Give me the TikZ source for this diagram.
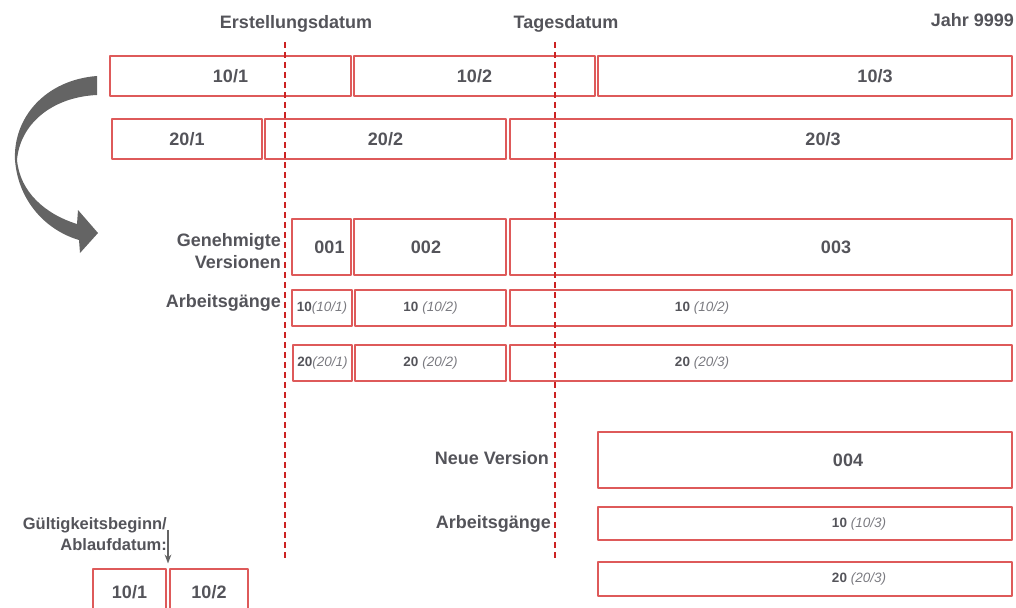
\documentclass[tikz,border=0pt]{standalone}
\usepackage{fontspec}
\setmainfont{Liberation Sans}
\usetikzlibrary{calc,arrows.meta}

\definecolor{boxred}{RGB}{222,90,90}
\definecolor{datered}{RGB}{204,34,34}
\definecolor{txtgray}{RGB}{84,84,90}
\definecolor{itgray}{RGB}{122,122,128}
\definecolor{arrowgray}{RGB}{100,100,100}

\newcommand\opname[3]{#1#2\textit{\mdseries\color{itgray}(#3)}}

\begin{document}
\begin{tikzpicture}[x=1pt, y=-1pt, >=Stealth, line join=round,
  box/.style={draw=boxred, line width=1.1pt, inner sep=0pt, text=txtgray,
    font=\fontsize{18}{20}\selectfont\bfseries},
  opbox/.style={box, font=\fontsize{13.5}{15}\selectfont\bfseries},
  boxtext/.style 2 args={label={[text=txtgray, xshift=#1pt,
    font=\fontsize{18}{20}\selectfont\bfseries]center:#2}},
  optext/.style 2 args={label={[text=txtgray, xshift=#1pt,
    font=\fontsize{13.5}{15}\selectfont\bfseries]center:#2}},
  lbl/.style={text=txtgray, inner sep=0pt, align=right,
    font=\fontsize{18}{22}\selectfont\bfseries},
  datum/.style={draw=datered, line width=2pt, dash pattern=on 6pt off 4pt}]

  % Fix the page to the size of the reference
  \useasboundingbox (0,0) rectangle (1016,607);
  \clip (0,0) rectangle (1016,607);

  % Define the top and bottom of the two date lines
  \coordinate (erst-top) at (285,42);
  \coordinate (erst-bot) at (285,560);
  \coordinate (tag-top) at (555,42);
  \coordinate (tag-bot) at (555,560);

  % Draw the date labels
  \node[lbl] (erst) at (296,24) {Erstellungsdatum};
  \node[lbl] (tag) at (566,24) {Tagesdatum};
  \node[lbl, anchor=east] (jahr) at (1014,20) {Jahr 9999};

  % Draw the validity periods of the operations 10 and 20
  \node[box, minimum width=241pt, minimum height=40pt] (v101) at (230.5,76) {10/1};
  \node[box, minimum width=241pt, minimum height=40pt] (v102) at (474.5,76) {10/2};
  \node[box, minimum width=414pt, minimum height=40pt, boxtext={70}{10/3}] (v103) at (805,76) {};
  \node[box, minimum width=150pt, minimum height=40pt] (v201) at (187,139) {20/1};
  \node[box, minimum width=241pt, minimum height=40pt] (v202) at (385.5,139) {20/2};
  \node[box, minimum width=502pt, minimum height=40pt, boxtext={62}{20/3}] (v203) at (761,139) {};

  % Draw the curved arrow down to the versions
  \fill[arrowgray] (97,76) .. controls (45,80) and (13,118) .. (15,160)
    .. controls (18,200) and (45,230) .. (79,240) -- (80,253) -- (98,233)
    -- (78,210) -- (77,224) .. controls (45,214) and (20,192) .. (17,160)
    .. controls (20,124) and (52,97) .. (97,95) -- cycle;

  % Draw the approved versions
  \node[lbl, anchor=east] (genehm) at (281,251) {Genehmigte\\Versionen};
  \node[box, minimum width=59pt, minimum height=56pt, boxtext={8}{001}] (ver001) at (321.5,247) {};
  \node[box, minimum width=152pt, minimum height=56pt, boxtext={-4}{002}] (ver002) at (430,247) {};
  \node[box, minimum width=502pt, minimum height=56pt, boxtext={75}{003}] (ver003) at (761,247) {};

  % Draw the operations of the approved versions
  \node[lbl, anchor=east] (arb1) at (281,303) {Arbeitsgänge};
  \node[opbox, minimum width=60pt, minimum height=36pt] (op101) at (322,308) {\opname{10}{}{10/1}};
  \node[opbox, minimum width=151pt, minimum height=36pt] (op102) at (430.5,308) {\opname{10}{ }{10/2}};
  \node[opbox, minimum width=502pt, minimum height=36pt, optext={-59}{\opname{10}{ }{10/2}}] (op103) at (761,308) {};
  \node[opbox, minimum width=59pt, minimum height=36pt] (op201) at (322.5,363) {\opname{20}{}{20/1}};
  \node[opbox, minimum width=151pt, minimum height=36pt] (op202) at (430.5,363) {\opname{20}{ }{20/2}};
  \node[opbox, minimum width=502pt, minimum height=36pt, optext={-59}{\opname{20}{ }{20/3}}] (op203) at (761,363) {};

  % Draw the new version and its operations
  \node[lbl, anchor=east] (neu) at (549,458) {Neue Version};
  \node[box, minimum width=414pt, minimum height=56pt, boxtext={43}{004}] (ver004) at (805,460) {};
  \node[lbl, anchor=east] (arb2) at (551,524) {Arbeitsgänge};
  \node[opbox, minimum width=414pt, minimum height=33pt, optext={54}{\opname{10}{ }{10/3}}] (op104) at (805,523.5) {};
  \node[opbox, minimum width=414pt, minimum height=34pt, optext={54}{\opname{20}{ }{20/3}}] (op204) at (805,579) {};

  % Draw the creation date and the current date
  \draw[datum] (erst-top) -- (erst-bot);
  \draw[datum] (tag-top) -- (tag-bot);

  % Draw the legend in the lower left corner
  \node[lbl, anchor=east, font=\fontsize{16.5}{21}\selectfont\bfseries] (gueltig) at (167,534) {Gültigkeitsbeginn/\\Ablaufdatum:};
  \node[box, minimum width=73pt, minimum height=46pt] (l101) at (129.5,592) {10/1};
  \node[box, minimum width=78pt, minimum height=46pt] (l102) at (209,592) {10/2};
  \coordinate (grenze) at ($(l101.north east)!0.5!(l102.north west)$);
  \draw[->, arrowgray, line width=1.3pt] ($(grenze |- gueltig)+(0,-4)$) -- ($(grenze)+(0,-5)$);

\end{tikzpicture}
\end{document}
